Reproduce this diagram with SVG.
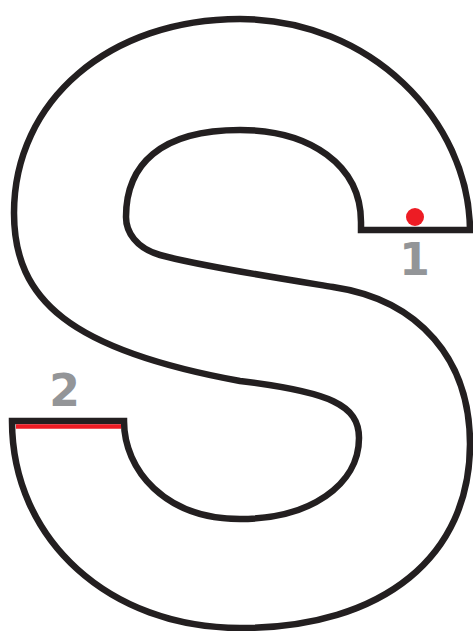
<svg xmlns="http://www.w3.org/2000/svg" width="473" height="631" viewBox="0 0 473 631">
<style>
.outline{fill:#fff;stroke:#231f20;stroke-width:6.5;stroke-linejoin:miter}
.lbl{font-family:"DejaVu Sans",Verdana,sans-serif;font-weight:bold;font-size:44px;fill:#939598;text-anchor:middle}
</style>
<rect width="473" height="631" fill="#fff"/>
<g id="letter-s">
<path class="outline" d="M361,230 L473,230 L470,230 C469,120 370,19 240,19 C110,19 14,100 14,213 C14,300 70,350 240,381 C330,392 359,405 359,438 C359,485 310,519 240,519 C165,519 124,470 124,421 L12,421 C12,540 110,628 240,628 C385,628 470,555 470,444 C470,360 420,300 333,287 C290,280 200,266 160,255 C136,248 126,232 126,217 C126,165 160,130 240,130 C310,130 361,165 361,222 Z"/>
</g>
<g id="marker-1">
<circle cx="415" cy="217" r="9" fill="#ed1c24"/>
<text class="lbl" x="414.5" y="275">1</text>
</g>
<g id="marker-2">
<line x1="16" y1="426.5" x2="121" y2="426.5" stroke="#ed1c24" stroke-width="4.5"/>
<text class="lbl" x="64.5" y="406">2</text>
</g>
</svg>
